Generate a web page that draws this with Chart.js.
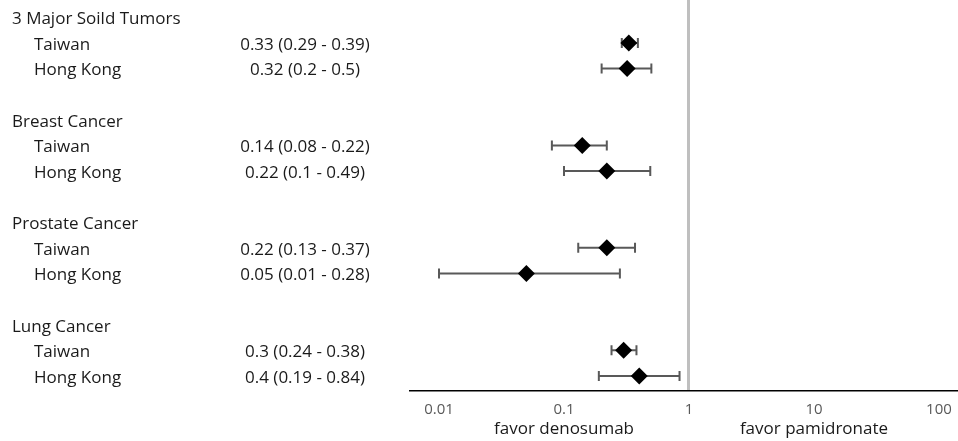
<!DOCTYPE html>
<html>
<head>
<meta charset="utf-8">
<script src="https://cdn.jsdelivr.net/npm/chart.js@4/dist/chart.umd.min.js"></script>
<style>
  html, body { margin: 0; padding: 0; background: #fff; }
  #wrap { width: 958px; height: 441px; position: relative; }
</style>
</head>
<body>
<div id="wrap"><canvas id="forest"></canvas></div>
<script>
// Datos del gráfico
const grupos = ['3 Major Soild Tumors', 'Breast Cancer', 'Prostate Cancer', 'Lung Cancer'];
const regiones = ['Taiwan', 'Hong Kong'];
const estimados = [0.33, 0.32, 0.14, 0.22, 0.22, 0.05, 0.3, 0.4];
const inferiores = [0.29, 0.2, 0.08, 0.1, 0.13, 0.01, 0.24, 0.19];
const superiores = [0.39, 0.5, 0.22, 0.49, 0.37, 0.28, 0.38, 0.84];
const valoresTicks = [0.01, 0.1, 1, 10, 100];
const notasEje = ['favor denosumab', 'favor pamidronate'];
const posicionesNotas = [0.1, 10];

const FUENTE = '"Open Sans", sans-serif';

// fila de cada estimado: encabezado en 4g, regiones en 4g+1 y 4g+2
const filas = estimados.map((_, i) => Math.floor(i / regiones.length) * 4 + 1 + (i % regiones.length));
const puntos = estimados.map((v, i) => ({ x: v, y: filas[i] }));

// Barras de error con topes
const barrasError = {
    id: 'barrasError',
    beforeDatasetsDraw(chart) {
        const { ctx, scales: { x, y } } = chart;
        ctx.save();
        ctx.strokeStyle = '#595959';
        ctx.lineWidth = 2;
        filas.forEach((fila, i) => {
            const py = y.getPixelForValue(fila);
            const x1 = x.getPixelForValue(inferiores[i]);
            const x2 = x.getPixelForValue(superiores[i]);
            ctx.beginPath();
            ctx.moveTo(x1, py); ctx.lineTo(x2, py);
            ctx.moveTo(x1, py - 5); ctx.lineTo(x1, py + 5);
            ctx.moveTo(x2, py - 5); ctx.lineTo(x2, py + 5);
            ctx.stroke();
        });
        ctx.restore();
    }
};

// Textos de la tabla a la izquierda y notas bajo el eje
const textos = {
    id: 'textos',
    afterDraw(chart) {
        const { ctx, scales: { x, y } } = chart;
        ctx.save();
        ctx.font = '17px ' + FUENTE;
        ctx.fillStyle = '#1a1a1a';
        ctx.textBaseline = 'middle';
        grupos.forEach((g, gi) => {
            ctx.textAlign = 'left';
            ctx.fillText(g, 12, y.getPixelForValue(gi * 4) + 2);
        });
        estimados.forEach((v, i) => {
            const py = y.getPixelForValue(filas[i]) + 2;
            ctx.textAlign = 'left';
            ctx.fillText(regiones[i % regiones.length], 34, py);
            ctx.textAlign = 'center';
            ctx.fillText(`${v} (${inferiores[i]} - ${superiores[i]})`, 305, py);
        });
        ctx.textAlign = 'center';
        notasEje.forEach((n, i) => {
            ctx.fillText(n, x.getPixelForValue(posicionesNotas[i]), 429);
        });
        ctx.restore();
    }
};

new Chart(document.getElementById('forest'), {
    type: 'scatter',
    data: {
        datasets: [{
            data: puntos,
            pointStyle: 'rectRot',
            pointRadius: 8.5,
            pointHoverRadius: 8.5,
            backgroundColor: '#000',
            borderColor: '#000',
            borderWidth: 0,
            clip: false
        }]
    },
    options: {
        responsive: true,
        maintainAspectRatio: false,
        animation: false,
        events: [],
        layout: { autoPadding: false, padding: { left: 410, right: 0, top: 0, bottom: 22 } },
        plugins: { legend: { display: false }, tooltip: { enabled: false } },
        scales: {
            x: {
                type: 'logarithmic',
                min: 0.00586,
                max: 142,
                afterBuildTicks: (axis) => { axis.ticks = valoresTicks.map(v => ({ value: v })); },
                afterFit: (axis) => {
                    axis.paddingLeft = 0;
                    axis.paddingRight = 0;
                    axis.height = 28;
                },
                ticks: {
                    autoSkip: false,
                    maxRotation: 0,
                    padding: 10,
                    color: '#595959',
                    font: { family: FUENTE, size: 15 },
                    callback: (v) => String(v)
                },
                grid: {
                    drawTicks: false,
                    color: (c) => c.tick && c.tick.value === 1 ? '#bfbfbf' : 'rgba(0,0,0,0)',
                    lineWidth: (c) => c.tick && c.tick.value === 1 ? 3 : 0
                },
                border: { display: true, color: '#000', width: 1.5 }
            },
            y: {
                type: 'linear',
                display: false,
                reverse: true,
                min: -0.68,
                max: 14.59
            }
        }
    },
    plugins: [barrasError, textos]
});
</script>
</body>
</html>
